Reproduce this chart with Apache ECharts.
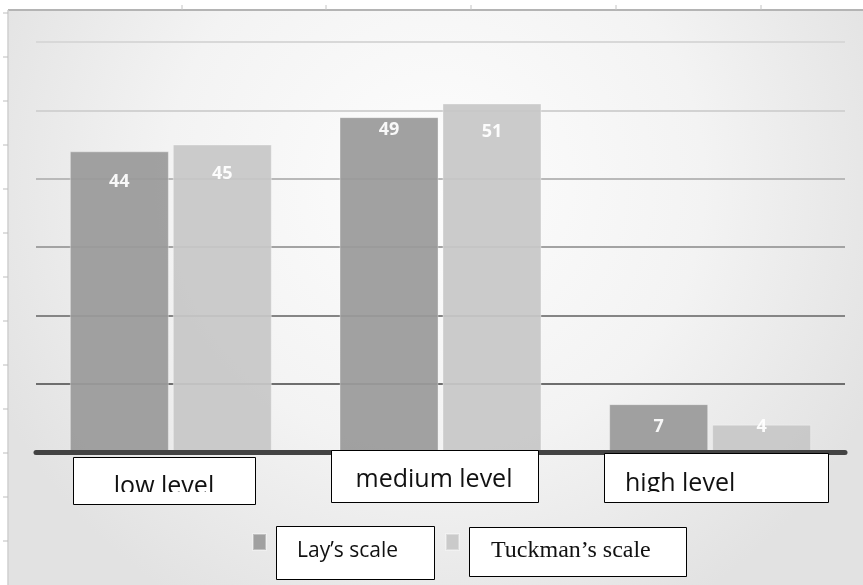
<!DOCTYPE html>
<html>
<head>
<meta charset="utf-8">
<script src="https://cdn.jsdelivr.net/npm/echarts@6/dist/echarts.min.js"></script>
<style>
  html, body { margin: 0; padding: 0; background: #ffffff; }
  #chart { width: 863px; height: 585px; }
</style>
</head>
<body>
<div id="chart"></div>
<script>
// Category names, series and their values
const categories = ['low level', 'medium level', 'high level'];
const seriesNames = ['Lay\u2019s scale', 'Tuckman\u2019s scale'];
const layValues = [44, 49, 7];
const tuckmanValues = [45, 51, 4];

// Value axis range
const yMin = 0;
const yMax = 60;
const yStep = 10;

// Vertical nudges for the value labels inside each bar (pixels)
const layLabelShift = [22, 4, 14];
const tuckLabelShift = [20, 19, -7];

const chart = echarts.init(document.getElementById('chart'), null, { renderer: 'canvas' });

function items(values, shifts) {
  return values.map((v, i) => ({ value: v, label: { offset: [0, shifts[i]] } }));
}

const labelFont = 'Open Sans';

// Category caption boxes under the axis: [x, y, w, h, textX, textTop, align, clipY]
const captionBoxes = [
  [73, 457, 182, 47, 164, 474.5, 'center', 492],
  [331, 450, 207, 52, 434, 467, 'center', null],
  [604, 453, 224, 49, 625, 471, 'left', 492]
];

const graphics = [];

// Backdrop panel with a soft centre highlight
graphics.push({
  type: 'rect', z: -10, silent: true,
  shape: { x: 8, y: 10, width: 855, height: 575 },
  style: {
    fill: new echarts.graphic.RadialGradient(0.5, 0.3, 0.85, [
      { offset: 0, color: '#fdfdfd' },
      { offset: 0.55, color: '#f3f3f3' },
      { offset: 1, color: '#e2e2e2' }
    ])
  }
});
// Panel edges with small ruler ticks
graphics.push({ type: 'line', z: -5, silent: true, shape: { x1: 8, y1: 10, x2: 863, y2: 10 }, style: { stroke: '#b4b4b4', lineWidth: 2 } });
graphics.push({ type: 'line', z: -5, silent: true, shape: { x1: 8, y1: 10, x2: 8, y2: 585 }, style: { stroke: '#cfcfcf', lineWidth: 1.5 } });
[182, 326, 471, 616, 761].forEach(x => {
  graphics.push({ type: 'line', z: -5, silent: true, shape: { x1: x, y1: 5, x2: x, y2: 10 }, style: { stroke: '#c4c4c4', lineWidth: 1 } });
});
for (let y = 13; y < 585; y += 44) {
  graphics.push({ type: 'line', z: -5, silent: true, shape: { x1: 3, y1: y, x2: 8, y2: y }, style: { stroke: '#bdbdbd', lineWidth: 1 } });
}

// Category caption boxes
captionBoxes.forEach((b, i) => {
  const [x, y, w, h, tx, ty, align, clipY] = b;
  graphics.push({
    type: 'rect', z: 100, silent: true,
    shape: { x: x + 0.5, y: y + 0.5, width: w, height: h },
    style: { fill: '#ffffff', stroke: '#000000', lineWidth: 1 }
  });
  graphics.push({
    type: 'text', z: 101, silent: true,
    x: tx, y: ty,
    style: {
      text: categories[i], fill: '#111111',
      font: '25px "' + labelFont + '"',
      align: align, verticalAlign: 'top'
    }
  });
  if (clipY !== null) {
    graphics.push({
      type: 'rect', z: 102, silent: true,
      shape: { x: x + 1.5, y: clipY, width: w - 2, height: y + h - clipY - 0.5 },
      style: { fill: '#ffffff' }
    });
  }
});

// Legend caption boxes: [x, y, w, h, textX, textTop, font]
const legendBoxes = [
  [276, 526, 158, 53, 297, 541, '21px "Open Sans"'],
  [469, 527, 217, 49, 491, 539, '24px "Liberation Serif"']
];
legendBoxes.forEach((b, i) => {
  const [x, y, w, h, tx, ty, font] = b;
  graphics.push({
    type: 'rect', z: 100, silent: true,
    shape: { x: x + 0.5, y: y + 0.5, width: w, height: h },
    style: { fill: '#ffffff', stroke: '#000000', lineWidth: 1 }
  });
  graphics.push({
    type: 'text', z: 101, silent: true,
    x: tx, y: ty,
    style: { text: seriesNames[i], fill: '#111111', font: font, align: 'left', verticalAlign: 'top' }
  });
});

const option = {
  backgroundColor: 'transparent',
  animation: false,
  grid: { left: 36, right: 18, top: 42, bottom: 133, containLabel: false },
  legend: {
    data: seriesNames,
    left: 252, top: 533, padding: 0,
    icon: 'rect', itemWidth: 13, itemHeight: 16, itemGap: 178,
    formatter: () => '',
    textStyle: { fontSize: 1 }
  },
  xAxis: {
    type: 'category',
    data: categories,
    axisTick: { show: false },
    axisLabel: { show: false },
    axisLine: { show: true, lineStyle: { color: '#434343', width: 5 } },
    z: 5
  },
  yAxis: {
    type: 'value',
    min: yMin, max: yMax, interval: yStep,
    axisLabel: { show: false },
    axisLine: { show: false },
    axisTick: { show: false },
    splitLine: {
      show: true,
      lineStyle: {
        width: 2,
        color: ['#555555', '#6e6e6e', '#858585', '#a3a3a3', '#b9b9b9', '#d2d2d2', '#d8d8d8']
      }
    }
  },
  series: [
    {
      name: seriesNames[0], type: 'bar',
      data: items(layValues, layLabelShift),
      barWidth: 99, barGap: '4%',
      itemStyle: { color: '#9a9a9a', opacity: 0.93, borderColor: 'rgba(255,255,255,0.35)', borderWidth: 1 },
      label: { show: true, position: 'insideTop', distance: 0, color: '#ffffff', fontFamily: labelFont, fontWeight: 'bold', fontSize: 18 }
    },
    {
      name: seriesNames[1], type: 'bar',
      data: items(tuckmanValues, tuckLabelShift),
      barWidth: 99,
      itemStyle: { color: '#c7c7c7', opacity: 0.93, borderColor: 'rgba(255,255,255,0.35)', borderWidth: 1 },
      label: { show: true, position: 'insideTop', distance: 0, color: '#ffffff', fontFamily: labelFont, fontWeight: 'bold', fontSize: 18 }
    }
  ],
  graphic: { elements: graphics }
};

chart.setOption(option);
</script>
</body>
</html>
